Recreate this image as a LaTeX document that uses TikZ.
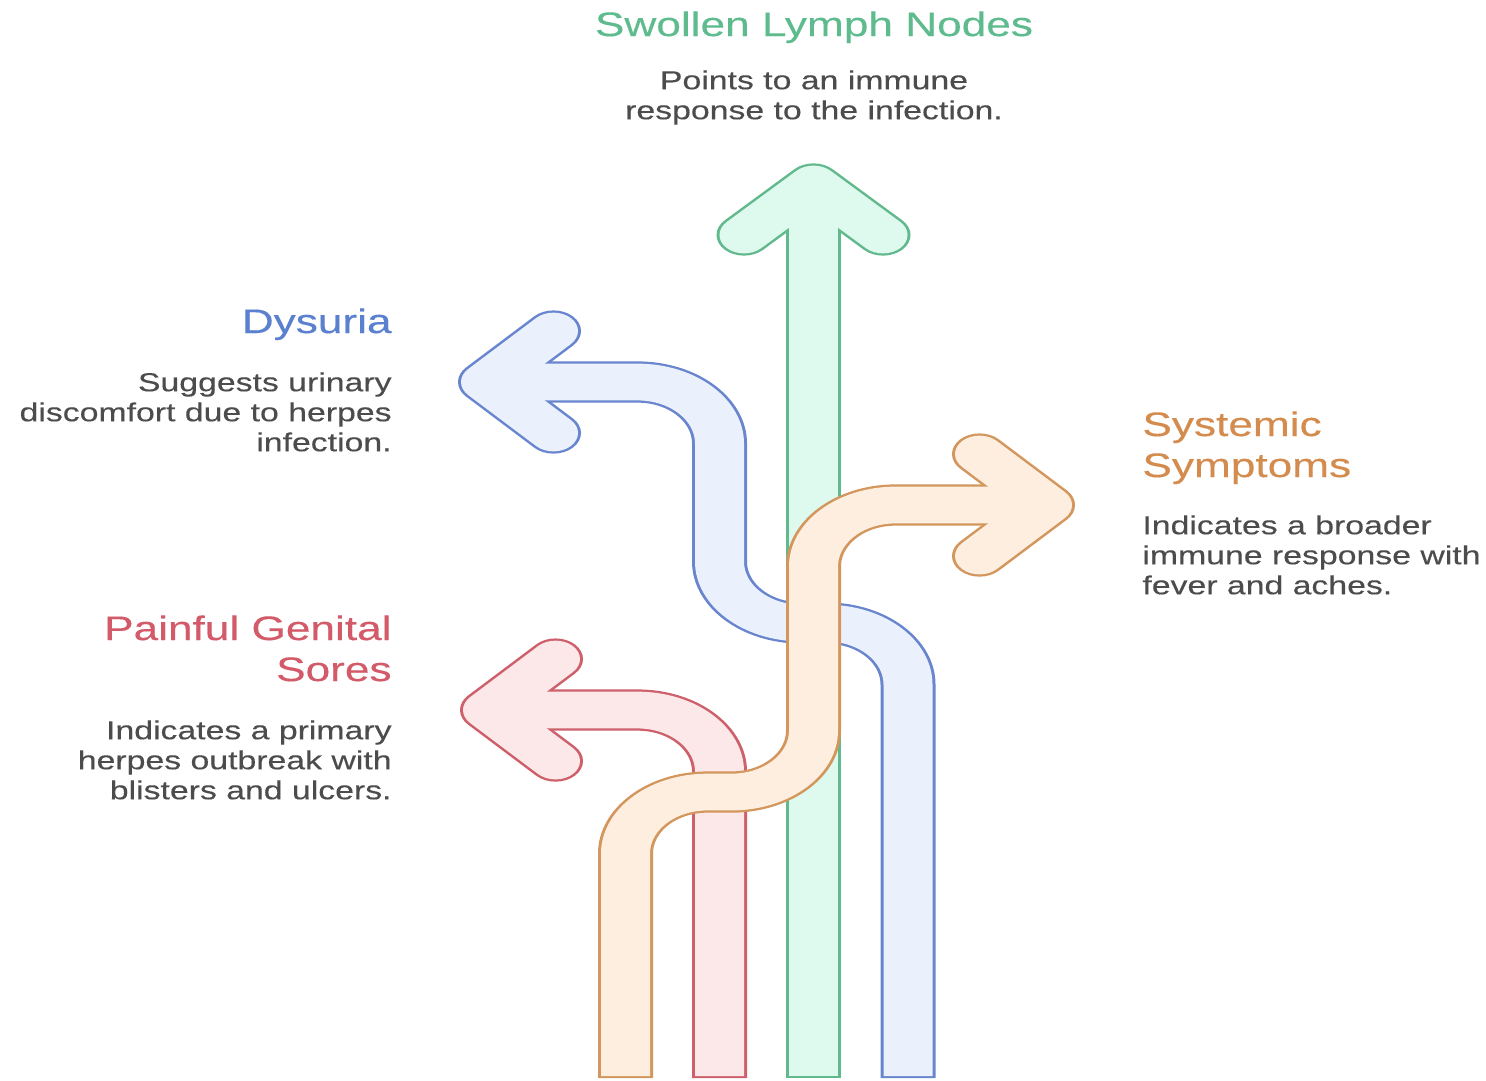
\documentclass[tikz,border=0pt]{standalone}
\usepackage{fontspec}
\newfontfamily\labelfont[FakeStretch=1.3, FakeBold=0.3]{Liberation Sans}

\definecolor{greenline}{HTML}{62B98E}
\definecolor{greenfill}{HTML}{DEFAEE}
\definecolor{greentext}{HTML}{5DBB8E}
\definecolor{blueline}{HTML}{6885CE}
\definecolor{bluefill}{HTML}{EAF1FC}
\definecolor{bluetext}{HTML}{5B80D0}
\definecolor{redline}{HTML}{CE606C}
\definecolor{redfill}{HTML}{FCE8E8}
\definecolor{redtext}{HTML}{D35A68}
\definecolor{orangeline}{HTML}{D3965C}
\definecolor{orangefill}{HTML}{FDEEE0}
\definecolor{orangetext}{HTML}{D48C4E}
\definecolor{notegray}{HTML}{4C4C4C}

\tikzset{
    bandrim/.style={line width=27.5pt, rounded corners=41pt},
    bandfill/.style={line width=24.5pt, rounded corners=41pt},
    headjoin/.style={sharp corners, line cap=round, line join=round},
    headline/.style={font=\labelfont\fontsize{17}{20.5}\selectfont, inner sep=0pt},
    blurb/.style={font=\labelfont\fontsize{13}{15}\selectfont, text=notegray, inner sep=0pt},
}

\begin{document}
\begin{tikzpicture}[x=0.5pt, y=-0.5pt]

    \useasboundingbox (0,0) rectangle (1486,1080);

    \begin{scope}[y=-0.6667pt, transform canvas={yscale=0.75}]
        % lymph nodes
        \draw[bandrim, draw=greenline] (813.5,1078) -- (813.5,184);
        \draw[bandrim, headjoin, draw=greenline] (744,235) -- (813.5,184) -- (883,235);
        \draw[bandfill, draw=greenfill] (813.5,1076) -- (813.5,184);
        \draw[bandfill, headjoin, draw=greenfill] (744,235) -- (813.5,184) -- (883,235);

        % dysuria
        \draw[bandrim, draw=blueline] (908,1078) -- (908,623) -- (719.5,623) -- (719.5,382) -- (485.5,382);
        \draw[bandrim, headjoin, draw=blueline] (553.5,331) -- (485.5,382) -- (553.5,433);
        \draw[bandfill, draw=bluefill] (908,1076) -- (908,623) -- (719.5,623) -- (719.5,382) -- (485.5,382);
        \draw[bandfill, headjoin, draw=bluefill] (553.5,331) -- (485.5,382) -- (553.5,433);

        % genital sores
        \draw[bandrim, draw=redline] (719.5,1078) -- (719.5,710) -- (487.5,710);
        \draw[bandrim, headjoin, draw=redline] (555.5,659) -- (487.5,710) -- (555.5,761);
        \draw[bandfill, draw=redfill] (719.5,1076) -- (719.5,710) -- (487.5,710);
        \draw[bandfill, headjoin, draw=redfill] (555.5,659) -- (487.5,710) -- (555.5,761);

        % systemic symptoms
        \draw[bandrim, draw=orangeline] (625.5,1078) -- (625.5,792) -- (813.5,792) -- (813.5,505) -- (1047.5,505);
        \draw[bandrim, headjoin, draw=orangeline] (979.5,454) -- (1047.5,505) -- (979.5,556);
        \draw[bandfill, draw=orangefill] (625.5,1076) -- (625.5,792) -- (813.5,792) -- (813.5,505) -- (1047.5,505);
        \draw[bandfill, headjoin, draw=orangefill] (979.5,454) -- (1047.5,505) -- (979.5,556);
    \end{scope}

    \node[headline, text=greentext, anchor=north] (lymphTitle) at (814,11) {Swollen Lymph Nodes};
    \node[blurb, anchor=north, align=center] (lymphNote) at (814,70)
    {Points to an immune\\response to the infection.};

    \node[headline, text=bluetext, anchor=north east, align=right] (dysuriaTitle) at (392,308) {Dysuria};
    \node[blurb, anchor=north east, align=right] (dysuriaNote) at (392,372)
    {Suggests urinary\\discomfort due to herpes\\infection.};

    \node[headline, text=redtext, anchor=north east, align=right] (soresTitle) at (392,615)
    {Painful Genital\\Sores};
    \node[blurb, anchor=north east, align=right] (soresNote) at (392,720)
    {Indicates a primary\\herpes outbreak with\\blisters and ulcers.};

    \node[headline, text=orangetext, anchor=north west, align=left] (systemicTitle) at (1142,411)
    {Systemic\\Symptoms};
    \node[blurb, anchor=north west, align=left] (systemicNote) at (1142,515)
    {Indicates a broader\\immune response with\\fever and aches.};

\end{tikzpicture}
\end{document}
